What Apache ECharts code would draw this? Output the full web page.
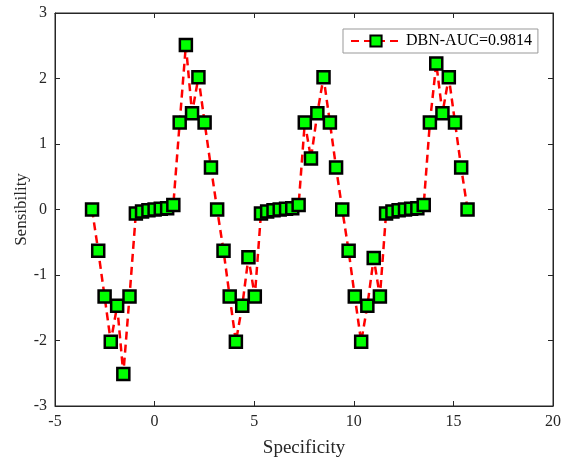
<!DOCTYPE html>
<html>
<head>
<meta charset="utf-8">
<script src="https://cdn.jsdelivr.net/npm/echarts@6/dist/echarts.min.js"></script>
<style>
  html, body { margin: 0; padding: 0; background: #fff; }
  #chart { width: 563px; height: 462px; }
</style>
</head>
<body>
<div id="chart"></div>
<script>
// 采样点横坐标 (Specificity)
var xs = [
  -3.14, -2.83, -2.51, -2.20, -1.88, -1.57, -1.26, -0.94, -0.63, -0.31,
  0.00, 0.31, 0.63, 0.94, 1.26, 1.57, 1.88, 2.20, 2.51, 2.83,
  3.14, 3.46, 3.77, 4.08, 4.40, 4.71, 5.03, 5.34, 5.65, 5.97,
  6.28, 6.60, 6.91, 7.23, 7.54, 7.85, 8.17, 8.48, 8.80, 9.11,
  9.42, 9.74, 10.05, 10.37, 10.68, 11.00, 11.31, 11.62, 11.94, 12.25,
  12.57, 12.88, 13.19, 13.51, 13.82, 14.14, 14.45, 14.77, 15.08, 15.39,
  15.71
];
// 纵坐标 (Sensibility)
var ys = [
  0.00, -0.63, -1.33, -2.02, -1.47, -2.51, -1.33, -0.06, -0.03, -0.01,
  0.00, 0.01, 0.02, 0.07, 1.33, 2.51, 1.47, 2.02, 1.33, 0.64,
  0.00, -0.63, -1.33, -2.02, -1.47, -0.73, -1.33, -0.06, -0.03, -0.01,
  0.00, 0.01, 0.02, 0.07, 1.33, 0.78, 1.47, 2.02, 1.33, 0.64,
  0.00, -0.63, -1.33, -2.02, -1.47, -0.74, -1.33, -0.06, -0.03, -0.01,
  0.00, 0.01, 0.02, 0.07, 1.33, 2.23, 1.47, 2.02, 1.33, 0.64,
  0.00
];
var seriesName = 'DBN-AUC=0.9814';
var xTicks = [-5, 0, 5, 10, 15, 20];
var yTicks = [-3, -2, -1, 0, 1, 2, 3];

var points = [];
for (var i = 0; i < xs.length; i++) {
  points.push([xs[i], ys[i]]);
}

var font = 'Liberation Serif';
var axisColor = '#262626';

var chart = echarts.init(document.getElementById('chart'));

// 坐标轴公共样式, 刻度朝内, 不穿过零点
function axisBase(extra) {
  var a = {
    type: 'value',
    nameMoveOverlap: false,
    axisLine: { show: true, onZero: false, lineStyle: { color: axisColor } },
    axisTick: { show: true, inside: true, length: 5, lineStyle: { color: axisColor } },
    splitLine: { show: false }
  };
  for (var k in extra) a[k] = extra[k];
  return a;
}

var option = {
  animation: false,
  backgroundColor: '#fff',
  grid: {
    left: 55, right: 10, top: 13, bottom: 56,
    outerBoundsMode: 'none',
    show: true, borderColor: axisColor, borderWidth: 1
  },
  legend: {
    left: 343, top: 29,
    padding: [4, 6, 4, 7],
    borderColor: '#999', borderWidth: 1,
    backgroundColor: '#fff',
    itemWidth: 50, itemHeight: 14, itemGap: 4,
    textStyle: { fontFamily: font, fontSize: 16, color: '#000' },
    data: [seriesName]
  },
  xAxis: [
    axisBase({
      min: xTicks[0], max: xTicks[xTicks.length - 1], interval: 5,
      name: 'Specificity', nameLocation: 'middle', nameGap: 33,
      nameTextStyle: { fontFamily: font, fontSize: 19, color: '#262626' },
      axisLabel: { fontFamily: font, fontSize: 16, color: '#262626', margin: 8 }
    }),
    axisBase({
      position: 'top',
      min: xTicks[0], max: xTicks[xTicks.length - 1], interval: 5,
      axisLabel: { show: false }
    })
  ],
  yAxis: [
    axisBase({
      min: yTicks[0], max: yTicks[yTicks.length - 1], interval: 1,
      name: 'Sensibility', nameLocation: 'middle', nameGap: 25,
      nameTextStyle: { fontFamily: font, fontSize: 17, color: '#262626' },
      axisLabel: { fontFamily: font, fontSize: 16, color: '#262626', margin: 8 }
    }),
    axisBase({
      position: 'right',
      min: yTicks[0], max: yTicks[yTicks.length - 1], interval: 1,
      axisLabel: { show: false }
    })
  ],
  series: [{
    name: seriesName,
    type: 'line',
    data: points,
    symbol: 'rect',
    symbolSize: 12,
    lineStyle: { color: '#ff0000', width: 2.5, type: [8, 5] },
    itemStyle: { color: '#00ff00', borderColor: '#000', borderWidth: 2.5 }
  }]
};
chart.setOption(option);
</script>
</body>
</html>
